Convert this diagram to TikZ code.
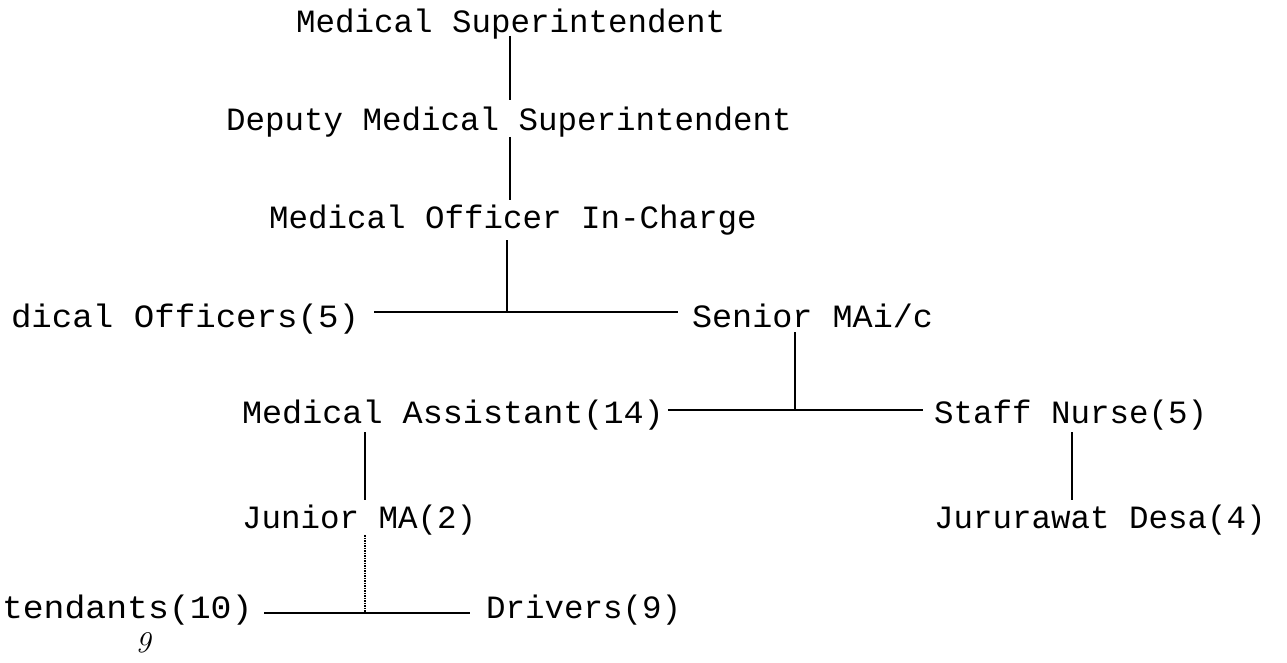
\documentclass[tikz,border=0pt]{standalone}
\usepackage{fontspec}
\setmonofont{Liberation Mono}
\begin{document}
\begin{tikzpicture}[x=1pt,y=-1pt,
  lbl/.style={font=\ttfamily\fontsize{32.5}{36}\selectfont, anchor=base west, inner sep=0pt, outer sep=0pt},
  con/.style={line width=1.7pt, black},
  dcon/.style={line width=1.5pt, black, densely dotted}]
\useasboundingbox (0,0) rectangle (1287,663);
\node[lbl] (ms) at (296,33) {Medical Superintendent};
\node[lbl] (dms) at (226,131) {Deputy Medical Superintendent};
\node[lbl] (moic) at (269,229) {Medical Officer In-Charge};
\node[lbl] (mo) at (11,327) {\scalebox{1.05}[1]{dical Officers(5)}};
\node[lbl] (smai) at (692,327) {\scalebox{1.03}[1]{Senior MAi/c}};
\node[lbl] (ma) at (242,423) {\scalebox{1.03}[1]{Medical Assistant(14)}};
\node[lbl] (sn) at (934,423) {Staff Nurse(5)};
\node[lbl] (jma) at (242,528) {Junior MA(2)};
\node[lbl] (jd) at (934,528) {Jururawat Desa(4)};
\node[lbl] (att) at (2,618) {\scalebox{1.07}[1]{tendants(10)}};
\node[lbl] (drv) at (486,618) {Drivers(9)};
\node[font=\rmfamily\itshape\fontsize{30}{32}\selectfont, inner sep=0pt] (pg) at (143,643) {9};
% junctions
\coordinate (j1) at (507,312);
\coordinate (j2) at (795,410);
\coordinate (j3) at (365,613);
% connectors
\draw[con] ([yshift=-3pt]ms.base -| 510,0) -- ([yshift=31pt]dms.base -| 510,0);
\draw[con] ([yshift=-6pt]dms.base -| 510,0) -- ([yshift=29pt]moic.base -| 510,0);
\draw[con] ([yshift=-11pt]moic.base -| j1) -- (j1);
\draw[con] ([xshift=15pt]mo.east |- j1) -- ([xshift=-14pt]smai.west |- j1);
\draw[con] ([yshift=-5pt]smai.base -| j2) -- (j2);
\draw[con] ([xshift=4pt]ma.east |- j2) -- ([xshift=-11pt]sn.west |- j2);
\draw[con] ([yshift=-9pt]ma.base -| 365,0) -- ([yshift=28pt]jma.base -| 365,0);
\draw[con] ([yshift=-9pt]sn.base -| 1072,0) -- ([yshift=28pt]jd.base -| 1072,0);
\draw[dcon] ([yshift=-7pt]jma.base -| j3) -- (j3);
\draw[con] ([xshift=12pt]att.east |- j3) -- ([xshift=-16pt]drv.west |- j3);
\end{tikzpicture}
\end{document}
